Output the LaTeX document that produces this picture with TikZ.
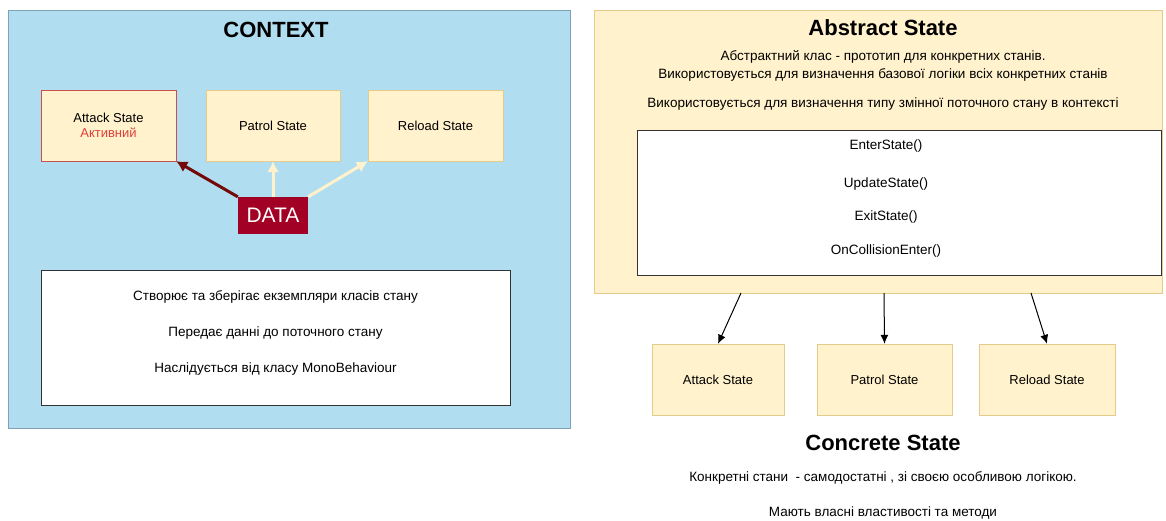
\documentclass[tikz,border=0pt]{standalone}
\usepackage{fontspec}
\setmainfont{Liberation Sans}
\usetikzlibrary{arrows.meta}
\usetikzlibrary{positioning}
\definecolor{ctxblue}{HTML}{B1DDF0}
\definecolor{ctxedge}{HTML}{7FA3B5}
\definecolor{statefill}{HTML}{FFF2CC}
\definecolor{stateedge}{HTML}{E3CC8A}
\definecolor{activeedge}{HTML}{C8504E}
\definecolor{activetext}{HTML}{E0403A}
\definecolor{datared}{HTML}{A20025}
\definecolor{datadark}{HTML}{730A0A}
\definecolor{boxedge}{HTML}{333333}
\tikzset{statebox/.style = {draw=stateedge, fill=statefill, minimum height=71pt, align=center, font=\fontsize{13}{15}\selectfont}}
\tikzset{txt/.style = {align=center, font=\fontsize{13.5}{18}\selectfont}}
\tikzset{title/.style = {font=\bfseries\fontsize{22}{26}\selectfont}}
\tikzset{thick arr/.style = {line width=3pt, -{Latex[length=11pt,width=12pt]}}}
\tikzset{thin arr/.style = {line width=1pt, -{Latex[length=9pt,width=8pt]}}}

\begin{document}
\begin{tikzpicture}[x=1pt,y=-1pt]
        \useasboundingbox (0,0) rectangle (1166,520);
        \node[draw=ctxedge, fill=ctxblue, minimum width=562pt, minimum height=418pt] (context) at (289,219) {};
        \node[title] (ctxtitle) at (276,30) {CONTEXT};
        \node[statebox, draw=activeedge, minimum width=135pt] (ctxattack) at (108.5,125.5) {Attack State\\\textcolor{activetext}{Активний}};
        \node[statebox, minimum width=134pt] (ctxpatrol) at (273,125.5) {Patrol State};
        \node[statebox, minimum width=135pt] (ctxreload) at (435.5,125.5) {Reload State};
        \node[fill=datared, text=white, minimum width=70pt, minimum height=37pt, font=\fontsize{21}{24}\selectfont] (data) at (273,215.5) {DATA};
        \draw[thick arr, draw=datadark] (data.north west) -- (ctxattack.south east);
        \draw[thick arr, draw=statefill] (data.north) -- (ctxpatrol.south);
        \draw[thick arr, draw=statefill] (data.north east) -- (ctxreload.south west);
        \node[draw=boxedge, fill=white, minimum width=469pt, minimum height=135pt] (ctxinfo) at (275.5,337.5) {};
        \node[txt] (ctxcreate) at (275.5,297) {Створює та зберігає екземпляри класів стану};
        \node[txt] (ctxpass) at (275.5,333) {Передає данні до поточного стану};
        \node[txt] (ctxinherit) at (275.5,369) {Наслідується від класу MonoBehaviour};

        \node[draw=stateedge, fill=statefill, minimum width=568pt, minimum height=283pt] (abstract) at (878,151.5) {};
        \node[title] (abstitle) at (883,28) {Abstract State};
        \node[txt] (absdesc) at (883,66) {Абстрактний клас - прототип для конкретних станів.\\Використовується для визначення базової логіки всіх конкретних станів};
        \node[txt] (absuse) at (883,104) {Використовується для визначення типу змінної поточного стану в контексті};
        \node[draw=boxedge, fill=white, minimum width=524pt, minimum height=145pt] (methods) at (899,202.5) {};
        \node[txt] (enter) at (886,146) {EnterState()};
        \node[txt] (update) at (886,184) {UpdateState()};
        \node[txt] (exit) at (886,217) {ExitState()};
        \node[txt] (collide) at (886,251) {OnCollisionEnter()};

        \coordinate (outattack) at (741,293);
        \coordinate (outpatrol) at (884,293);
        \coordinate (outreload) at (1031,293);
        \node[statebox, minimum width=132pt] (conattack) at (718,379.5) {Attack State};
        \node[statebox, minimum width=135pt] (conpatrol) at (884.5,379.5) {Patrol State};
        \node[statebox, minimum width=136pt] (conreload) at (1047,379.5) {Reload State};
        \draw[thin arr] (outattack) -- (conattack.north);
        \draw[thin arr] (outpatrol) -- (conpatrol.north);
        \draw[thin arr] (outreload) -- (conreload.north);
        \node[title] (contitle) at (883,443) {Concrete State};
        \node[txt] (conself) at (883,478) {Конкретні стани\ \ - самодостатні , зі своєю особливою логікою.};
        \node[txt] (conown) at (883,513) {Мають власні властивості та методи};
    \end{tikzpicture}
\end{document}
